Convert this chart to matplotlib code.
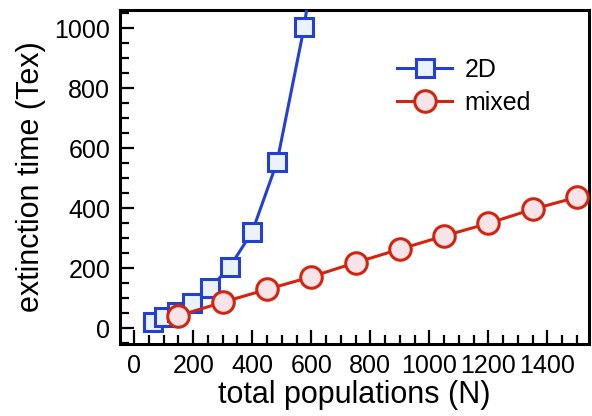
import matplotlib
matplotlib.use("Agg")
import matplotlib.pyplot as plt
from matplotlib.ticker import MultipleLocator

plt.rcParams['font.family'] = ['Liberation Sans', 'DejaVu Sans']

# data
n_2d = [64, 100, 144, 196, 256, 324, 400, 484, 576, 676]
t_2d = [22, 38, 55, 83, 133, 205, 322, 554, 1005, 1700]
n_mixed = [150, 300, 450, 600, 750, 900, 1050, 1200, 1350, 1500]
t_mixed = [42, 87, 130, 172, 219, 264, 308, 350, 397, 437]
x_ticks = [0, 200, 400, 600, 800, 1000, 1200, 1400]
y_ticks = [0, 200, 400, 600, 800, 1000]
labels = ["2D", "mixed"]

blue = "#2440d4"
blue_fill = "#eaf3fc"
red = "#d42410"
red_fill = "#f6e4e8"

fig = plt.figure(figsize=(5.92, 4.16), dpi=100)
ax = fig.add_axes([120/592, 1-344/416, (589-120)/592, (344-10)/416])

ax.plot(n_2d, t_2d, color=blue, lw=2.2, marker='s', ms=13.5,
        mfc=blue_fill, mec=blue, mew=2.2, label=labels[0], zorder=3)
ax.plot(n_mixed, t_mixed, color=red, lw=2.2, marker='o', ms=15.5,
        mfc=red_fill, mec=red, mew=2.2, label=labels[1], zorder=4)

ax.set_xlim(-48, 1541)
ax.set_ylim(-52, 1061)
ax.set_xticks(x_ticks)
ax.set_yticks(y_ticks)
ax.xaxis.set_minor_locator(MultipleLocator(50))
ax.yaxis.set_minor_locator(MultipleLocator(50))
ax.tick_params(which='both', direction='in', width=1.6, top=False, right=False,
               labelsize=18, color='black')
ax.tick_params(which='major', length=10, pad=7)
ax.tick_params(which='minor', length=6.5)
for s in ax.spines.values():
    s.set_linewidth(2.2)

ax.set_xlabel("total populations (N)", fontsize=22, labelpad=2)
ax.set_ylabel("extinction time (Tex)", fontsize=22, labelpad=6)

leg = fig.legend(loc='upper left', bbox_to_anchor=(397/592, 1-58/416),
                 frameon=False, fontsize=18, handlelength=2.2,
                 handletextpad=0.5, labelspacing=0.35, borderpad=0,
                 borderaxespad=0)

fig.savefig("out.png", dpi=100)
